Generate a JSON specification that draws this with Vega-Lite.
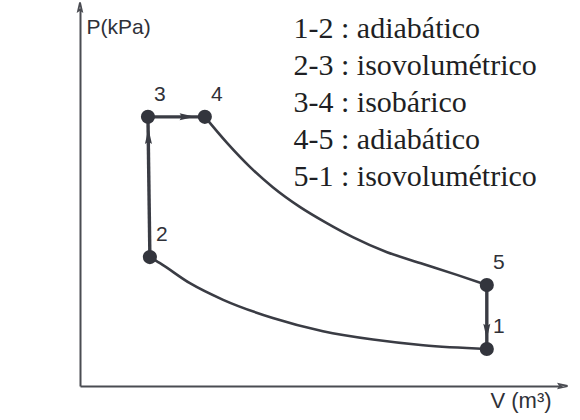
{
  "$schema": "https://vega.github.io/schema/vega-lite/v6.json",
  "width": 482,
  "height": 378,
  "autosize": {"type": "none"},
  "padding": {"left": 80, "top": 8, "right": 18, "bottom": 34},
  "background": "white",
  "config": {"view": {"stroke": null}},
  "datasets": {
    "states": [
      {"label": "1", "V": 8.44, "P": 0.98},
      {"label": "2", "V": 1.45, "P": 3.41},
      {"label": "3", "V": 1.41, "P": 7.12},
      {"label": "4", "V": 2.59, "P": 7.12},
      {"label": "5", "V": 8.44, "P": 2.67}
    ],
    "curves": [
      {"process": "4-5", "i": 0, "V": 2.59, "P": 7.12},
      {"process": "4-5", "i": 1, "V": 3.05, "P": 6.43},
      {"process": "4-5", "i": 2, "V": 3.53, "P": 5.79},
      {"process": "4-5", "i": 3, "V": 4.0, "P": 5.26},
      {"process": "4-5", "i": 4, "V": 4.56, "P": 4.74},
      {"process": "4-5", "i": 5, "V": 5.12, "P": 4.31},
      {"process": "4-5", "i": 6, "V": 5.66, "P": 3.94},
      {"process": "4-5", "i": 7, "V": 6.37, "P": 3.54},
      {"process": "4-5", "i": 8, "V": 7.12, "P": 3.23},
      {"process": "4-5", "i": 9, "V": 7.82, "P": 2.94},
      {"process": "4-5", "i": 10, "V": 8.44, "P": 2.67},
      {"process": "1-2", "i": 0, "V": 1.45, "P": 3.41},
      {"process": "1-2", "i": 1, "V": 1.66, "P": 3.25},
      {"process": "1-2", "i": 2, "V": 2.28, "P": 2.72},
      {"process": "1-2", "i": 3, "V": 2.97, "P": 2.28},
      {"process": "1-2", "i": 4, "V": 4.0, "P": 1.8},
      {"process": "1-2", "i": 5, "V": 5.04, "P": 1.45},
      {"process": "1-2", "i": 6, "V": 6.08, "P": 1.23},
      {"process": "1-2", "i": 7, "V": 7.12, "P": 1.08},
      {"process": "1-2", "i": 8, "V": 8.44, "P": 0.98}
    ],
    "segments": [
      {"process": "2-3", "i": 0, "V": 1.45, "P": 3.41},
      {"process": "2-3", "i": 1, "V": 1.41, "P": 7.12},
      {"process": "3-4", "i": 0, "V": 1.41, "P": 7.12},
      {"process": "3-4", "i": 1, "V": 2.59, "P": 7.12},
      {"process": "5-1", "i": 0, "V": 8.44, "P": 2.67},
      {"process": "5-1", "i": 1, "V": 8.44, "P": 0.98}
    ],
    "arrows": [
      {"process": "2-3", "direction": "up", "V": 1.42, "P": 6.55},
      {"process": "3-4", "direction": "right", "V": 2.18, "P": 7.12},
      {"process": "5-1", "direction": "down", "V": 8.44, "P": 1.5}
    ],
    "axisEnds": [
      {"axis": "P", "direction": "up", "V": 0, "P": 10},
      {"axis": "V", "direction": "right", "V": 10, "P": 0}
    ]
  },
  "layer": [
    {
      "data": {"name": "curves"},
      "mark": {"type": "line", "interpolate": "monotone", "color": "#3a3c44", "strokeWidth": 2.6},
      "encoding": {
        "x": {
          "field": "V", "type": "quantitative",
          "scale": {"domain": [0, 10], "nice": false, "zero": false},
          "axis": {
            "title": "V (m³)", "titleAngle": 0, "titleAlign": "left", "titleBaseline": "alphabetic",
            "titleX": 410, "titleY": 21, "titleFont": "Liberation Sans", "titleFontSize": 22,
            "titleFontWeight": "normal", "titleColor": "#2f3138",
            "labels": false, "ticks": false, "grid": false,
            "domainColor": "#4a4c52", "domainWidth": 2
          }
        },
        "y": {
          "field": "P", "type": "quantitative",
          "scale": {"domain": [0, 10], "nice": false, "zero": false},
          "axis": {
            "title": "P(kPa)", "titleAngle": 0, "titleAlign": "left", "titleBaseline": "alphabetic",
            "titleX": 6, "titleY": 25, "titleFont": "Liberation Sans", "titleFontSize": 21,
            "titleFontWeight": "normal", "titleColor": "#2f3138",
            "labels": false, "ticks": false, "grid": false,
            "domainColor": "#4a4c52", "domainWidth": 2
          }
        },
        "detail": {"field": "process"},
        "order": {"field": "i"}
      }
    },
    {
      "data": {"name": "segments"},
      "mark": {"type": "line", "color": "#3a3c44", "strokeWidth": 3.4},
      "encoding": {
        "x": {"field": "V", "type": "quantitative"},
        "y": {"field": "P", "type": "quantitative"},
        "detail": {"field": "process"},
        "order": {"field": "i"}
      }
    },
    {
      "data": {"name": "arrows"},
      "mark": {"type": "point", "filled": true, "color": "#3a3c44", "size": 480, "opacity": 1},
      "encoding": {
        "x": {"field": "V", "type": "quantitative"},
        "y": {"field": "P", "type": "quantitative"},
        "shape": {
          "field": "direction", "type": "nominal", "legend": null,
          "scale": {
            "domain": ["up", "right", "down"],
            "range": ["M0,-0.9L0.32,0.5L0,0.3L-0.32,0.5Z", "M0.9,0L-0.5,0.32L-0.3,0L-0.5,-0.32Z", "M0,0.9L0.32,-0.5L0,-0.3L-0.32,-0.5Z"]
          }
        }
      }
    },
    {
      "data": {"name": "axisEnds"},
      "mark": {"type": "point", "filled": false, "color": "#4a4c52", "strokeWidth": 1.8, "size": 150, "opacity": 1},
      "encoding": {
        "x": {"field": "V", "type": "quantitative"},
        "y": {"field": "P", "type": "quantitative"},
        "shape": {
          "field": "direction", "type": "nominal", "legend": null,
          "scale": {
            "domain": ["up", "right"],
            "range": ["M-0.55,0.9L0,0L0.55,0.9", "M-0.9,-0.55L0,0L-0.9,0.55"]
          }
        }
      }
    },
    {
      "data": {"name": "states"},
      "mark": {"type": "circle", "color": "#33353d", "size": 200, "opacity": 1},
      "encoding": {
        "x": {"field": "V", "type": "quantitative"},
        "y": {"field": "P", "type": "quantitative"}
      }
    },
    {
      "data": {"name": "states"},
      "mark": {"type": "text", "dx": 12, "dy": -22, "font": "Liberation Sans", "fontSize": 21, "color": "#2f3138", "align": "center", "baseline": "middle"},
      "encoding": {
        "x": {"field": "V", "type": "quantitative"},
        "y": {"field": "P", "type": "quantitative"},
        "text": {"field": "label"}
      }
    },
    {
      "data": {"values": [{}]},
      "mark": {
        "type": "text",
        "text": ["1-2 : adiabático", "2-3 : isovolumétrico", "3-4 : isobárico", "4-5 : adiabático", "5-1 : isovolumétrico"],
        "font": "Liberation Serif", "fontSize": 30, "lineHeight": 37, "color": "#1e1f24",
        "align": "left", "baseline": "alphabetic"
      },
      "encoding": {
        "x": {"datum": 4.43},
        "y": {"datum": 9.2}
      }
    }
  ]
}
